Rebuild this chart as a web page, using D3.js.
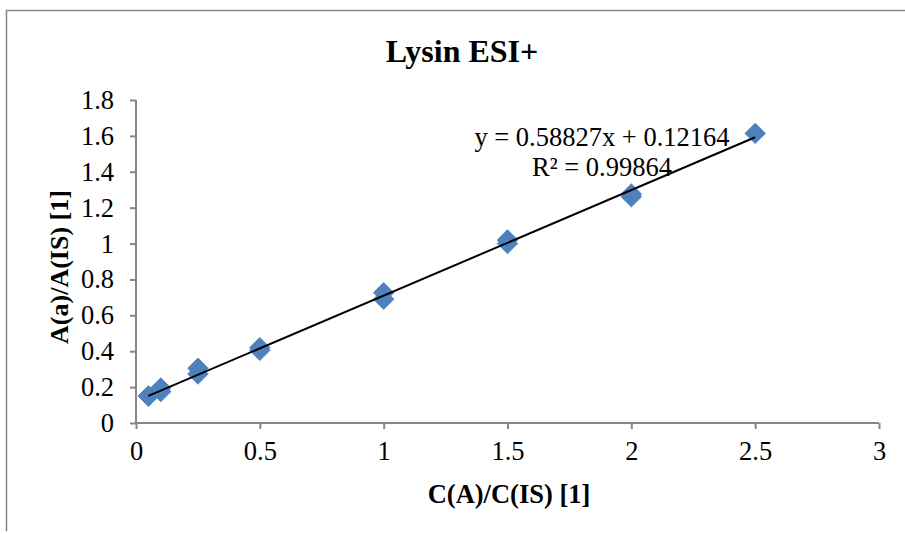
<!DOCTYPE html>
<html>
<head>
<meta charset="utf-8">
<script src="https://cdn.jsdelivr.net/npm/d3@7"></script>
<style>
  html, body { margin: 0; padding: 0; background: #ffffff; }
  svg { display: block; }
  svg text { font-family: "Liberation Serif", "Times New Roman", Times, "DejaVu Serif", serif; }
</style>
</head>
<body>
<svg id="chart" width="905" height="534"></svg>
<script>
// Calibration data: concentration ratio vs. peak area ratio
const concRatio = [0.05, 0.05, 0.1, 0.1, 0.25, 0.25, 0.5, 0.5, 1, 1, 1.5, 1.5, 2, 2, 2.5];
const areaRatio = [0.15, 0.15, 0.195, 0.175, 0.305, 0.273, 0.42, 0.405, 0.726, 0.69, 1.02, 1.0, 1.276, 1.261, 1.614];

// Linear fit reported on the chart
const slope = 0.58827;
const intercept = 0.12164;
const rSquared = 0.99864;

const xTicks = [0, 0.5, 1, 1.5, 2, 2.5, 3];
const yTicks = [0, 0.2, 0.4, 0.6, 0.8, 1, 1.2, 1.4, 1.6, 1.8];

const titleText = "Lysin ESI+";
const xTitle = "C(A)/C(IS) [1]";
const yTitle = "A(a)/A(IS) [1]";

const svg = d3.select("#chart");
const axisColor = "#868686";

const plot = { left: 136, right: 879, top: 100, bottom: 423 };

const x = d3.scaleLinear().domain([0, 3]).range([plot.left, plot.right]);
const y = d3.scaleLinear().domain([0, 1.8]).range([plot.bottom, plot.top]);

// Chart frame (left and top edges)
svg.append("path")
  .attr("d", "M6.5,531 V10.5 H905")
  .attr("fill", "none")
  .attr("stroke", axisColor)
  .attr("stroke-width", 1.5);

// Title
svg.append("text")
  .attr("x", 462).attr("y", 62)
  .attr("text-anchor", "middle")
  .attr("font-weight", "bold")
  .attr("font-size", 32)
  .attr("fill", "#000")
  .text(titleText);

// Axes
const xAxis = d3.axisBottom(x).tickValues(xTicks).tickSize(6).tickPadding(12)
  .tickFormat(d3.format("~g"));
const yAxis = d3.axisLeft(y).tickValues(yTicks).tickSize(6).tickPadding(16)
  .tickFormat(d3.format("~g"));

const gx = svg.append("g").attr("transform", `translate(0,${plot.bottom})`).call(xAxis);
const gy = svg.append("g").attr("transform", `translate(${plot.left},0)`).call(yAxis);

[gx, gy].forEach(g => {
  g.attr("font-family", null).attr("font-size", null);
  g.select(".domain").attr("stroke", axisColor).attr("stroke-width", 2);
  g.selectAll(".tick line").attr("stroke", axisColor).attr("stroke-width", 2);
  g.selectAll(".tick text")
    .attr("font-size", 26.5)
    .attr("fill", "#000");
});
gx.select(".domain").attr("d", `M${plot.left},0H${plot.right}`);
gy.select(".domain").attr("d", `M0,${plot.bottom}V${plot.top}`);

// Axis titles
svg.append("text")
  .attr("x", 509).attr("y", 503)
  .attr("text-anchor", "middle")
  .attr("font-weight", "bold")
  .attr("font-size", 26.5)
  .attr("fill", "#000")
  .text(xTitle);

svg.append("text")
  .attr("transform", "translate(68,267) rotate(-90)")
  .attr("text-anchor", "middle")
  .attr("font-weight", "bold")
  .attr("font-size", 26)
  .attr("fill", "#000")
  .text(yTitle);

// Markers
const points = concRatio.map((c, i) => ({ c, a: areaRatio[i] }));
const diamond = d3.symbol().type(d3.symbolSquare).size(210);
svg.append("g").selectAll("path")
  .data(points)
  .join("path")
  .attr("d", diamond)
  .attr("transform", d => `translate(${x(d.c)},${y(d.a)}) rotate(45)`)
  .attr("fill", "#4F81BD")
  .attr("stroke", "#4A7EBB")
  .attr("stroke-width", 0.8);

// Trend line across the measured range
const [xMin, xMax] = d3.extent(concRatio);
svg.append("line")
  .attr("x1", x(xMin)).attr("y1", y(slope * xMin + intercept))
  .attr("x2", x(xMax)).attr("y2", y(slope * xMax + intercept))
  .attr("stroke", "#000")
  .attr("stroke-width", 2);

// Fit equation
const eq = svg.append("text")
  .attr("text-anchor", "middle")
  .attr("font-size", 26.5)
  .attr("fill", "#000");
eq.append("tspan").attr("x", 602).attr("y", 146)
  .text(`y = ${slope}x + ${intercept}`);
eq.append("tspan").attr("x", 602).attr("y", 176)
  .text(`R² = ${rSquared}`);
</script>
</body>
</html>
